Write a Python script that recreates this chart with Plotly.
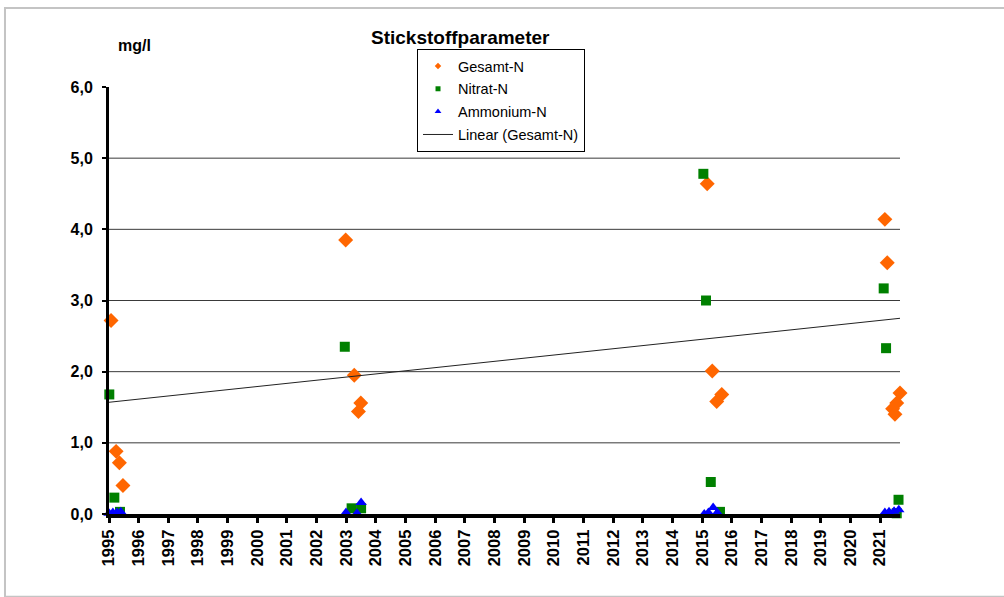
import plotly.graph_objects as go

# Sampling dates as decimal years and measured concentrations (mg/l)
gesamt_x = [1995.07, 1995.24, 1995.35, 1995.47,
            2002.98, 2003.27, 2003.49, 2003.41,
            2015.17, 2015.34, 2015.66, 2015.49,
            2021.16, 2021.24, 2021.67, 2021.56, 2021.42, 2021.50]
gesamt_y = [2.72, 0.88, 0.72, 0.40,
            3.85, 1.95, 1.56, 1.44,
            4.64, 2.01, 1.68, 1.58,
            4.14, 3.53, 1.70, 1.56, 1.48, 1.40]

nitrat_x = [1995.01, 1995.18, 1995.37,
            2002.95, 2003.18, 2003.50,
            2015.04, 2015.13, 2015.29, 2015.60,
            2021.12, 2021.20, 2021.62, 2021.56]
nitrat_y = [1.68, 0.23, 0.03,
            2.35, 0.08, 0.08,
            4.78, 3.00, 0.45, 0.03,
            3.17, 2.33, 0.20, 0.01]

ammonium_x = [1995.00, 1995.13, 1995.27, 1995.40,
              2002.99, 2003.36, 2003.50,
              2015.07, 2015.21, 2015.37, 2015.51,
              2021.16, 2021.30, 2021.47, 2021.63]
ammonium_y = [0.01, 0.02, 0.02, 0.03,
              0.02, 0.01, 0.16,
              0.00, 0.02, 0.09, 0.02,
              0.02, 0.03, 0.04, 0.06]

# Linear trend of Gesamt-N across the axis span
trend_x = [1995.0, 2021.67]
trend_y = [1.57, 2.75]

year_ticks = list(range(1995, 2022))
year_labels = [str(y) for y in year_ticks]
y_ticks = [0, 1, 2, 3, 4, 5, 6]
y_labels = ["0,0", "1,0", "2,0", "3,0", "4,0", "5,0", "6,0"]
grid_values = [1, 2, 3, 4, 5]

ORANGE = "#FF6600"
GREEN = "#008000"
BLUE = "#0000FF"
FONT = "Liberation Sans, Arial, sans-serif"

fig = go.Figure()

fig.add_trace(go.Scatter(x=gesamt_x, y=gesamt_y, mode="markers", showlegend=False,
                         cliponaxis=False,
                         marker=dict(symbol="diamond", size=11.5, color=ORANGE,
                                     line=dict(width=0))))
fig.add_trace(go.Scatter(x=nitrat_x, y=nitrat_y, mode="markers", showlegend=False,
                         cliponaxis=False,
                         marker=dict(symbol="square", size=10, color=GREEN,
                                     line=dict(width=0))))
fig.add_trace(go.Scatter(x=ammonium_x, y=ammonium_y, mode="markers", showlegend=False,
                         cliponaxis=False,
                         marker=dict(symbol="triangle-up", size=10, color=BLUE,
                                     line=dict(width=0))))
fig.add_trace(go.Scatter(x=trend_x, y=trend_y, mode="lines", showlegend=False,
                         line=dict(color="#222222", width=1)))

# Legend entries with small symbols
fig.add_trace(go.Scatter(x=[None], y=[None], mode="markers", name="Gesamt-N",
                         legendgroup="a",
                         marker=dict(symbol="diamond", size=5, color=ORANGE)))
fig.add_trace(go.Scatter(x=[None], y=[None], mode="markers", name="Nitrat-N",
                         legendgroup="b",
                         marker=dict(symbol="square", size=5, color=GREEN)))
fig.add_trace(go.Scatter(x=[None], y=[None], mode="markers", name="Ammonium-N",
                         legendgroup="c",
                         marker=dict(symbol="triangle-up", size=6, color=BLUE)))
fig.add_trace(go.Scatter(x=[None], y=[None], mode="lines", name="Linear (Gesamt-N)",
                         legendgroup="d",
                         line=dict(color="#222222", width=1)))

shapes = []
for g in grid_values:
    shapes.append(dict(type="line", xref="paper", yref="y", x0=0, x1=1, y0=g, y1=g,
                       line=dict(color="#3a3a3a", width=1), layer="below"))
# outer chart frame
shapes.append(dict(type="rect", xref="paper", yref="paper",
                   x0=-0.1315, x1=1.25, y0=-0.194, y1=1.185,
                   line=dict(color="#c4c4c4", width=2), layer="below"))

fig.update_layout(
    width=1004, height=597,
    margin=dict(l=109, r=104, t=87, b=83),
    paper_bgcolor="white", plot_bgcolor="white",
    font=dict(family=FONT, color="black"),
    shapes=shapes,
    showlegend=True,
    legend=dict(x=0.3894, y=1.089, xanchor="left", yanchor="top",
                bordercolor="black", borderwidth=1, bgcolor="white",
                font=dict(family=FONT, size=14.5, color="black"),
                tracegroupgap=1, itemwidth=30, traceorder="grouped"),
    annotations=[
        dict(text="<b>Stickstoffparameter</b>", xref="paper", yref="paper",
             x=0.444, y=1.117, xanchor="center", yanchor="middle", showarrow=False,
             font=dict(family=FONT, size=19, color="black")),
        dict(text="<b>mg/l</b>", xref="paper", yref="paper",
             x=0.009, y=1.098, xanchor="left", yanchor="middle", showarrow=False,
             font=dict(family=FONT, size=16, color="black")),
    ],
    xaxis=dict(range=[1995, 2021.67], tickmode="array", tickvals=year_ticks,
               ticktext=year_labels, tickangle=-90, showgrid=False, zeroline=False,
               showline=True, linecolor="black", linewidth=4,
               ticks="outside", ticklen=5, tickwidth=3, tickcolor="black",
               tickfont=dict(family=FONT, size=16.5, color="black", weight="bold")),
    yaxis=dict(range=[0, 6], tickmode="array", tickvals=y_ticks, ticktext=y_labels,
               showgrid=False, zeroline=False,
               showline=True, linecolor="black", linewidth=3,
               ticks="outside", ticklen=4, tickwidth=2, tickcolor="black",
               ticklabelstandoff=6,
               tickfont=dict(family=FONT, size=16, color="black", weight="bold")),
)

fig.write_html("out.html")
